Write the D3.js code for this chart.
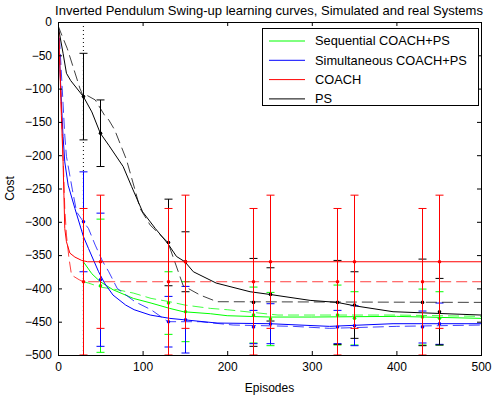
<!DOCTYPE html>
<html lang="en">
<head>
<meta charset="UTF-8">
<title>Inverted Pendulum Swing-up learning curves</title>
<style>
  html, body { margin: 0; padding: 0; background: #fff; }
  text { font-family: "Liberation Sans", Arial, sans-serif; }
</style>
</head>
<body>
<div id="chart"></div>
<script src="https://cdn.jsdelivr.net/npm/d3@7"></script>
<script>
// ---- data (episodes, cost) ----
const xTicks = [0, 100, 200, 300, 400, 500];
const yTicks = [0, -50, -100, -150, -200, -250, -300, -350, -400, -450, -500];

const seqSolid = [[30,-360],[40,-378],[50,-390],[65,-402],[89,-415],[110,-422],[132,-430],[148,-435],[180,-438],[200,-441],[250,-443],[300,-443],[400,-442],[500,-445]];
const seqDashed = [[30,-390],[36,-392],[50,-398],[70,-402],[89,-407],[110,-415],[132,-420],[150,-425],[180,-430],[200,-432],[230,-436],[260,-440],[300,-440],[400,-440],[500,-442]];

const simSolid = [[0,0],[2,-60],[4,-120],[6,-172],[8,-210],[12,-245],[20,-280],[30,-322],[36,-340],[48,-375],[55,-392],[65,-410],[80,-425],[90,-432],[109,-440],[132,-445],[148,-447],[188,-452],[250,-453],[321,-457],[396,-453],[500,-453]];
const simDashed = [[0,0],[2,-30],[5,-100],[8,-170],[10,-202],[17,-252],[22,-285],[30,-300],[36,-310],[44,-335],[53,-360],[60,-375],[70,-400],[91,-420],[110,-432],[130,-450],[168,-450],[207,-455],[278,-457],[321,-460],[400,-457],[500,-455]];

const coachSolid = [[0,0],[1,-20],[2,-60],[3,-100],[4,-140],[5,-175],[6,-210],[7,-260],[8,-310],[10,-330],[14,-347],[20,-353],[28,-358],[35,-360],[500,-360]];
const coachDashed = [[0,0],[2,-50],[4,-130],[6,-200],[8,-280],[10,-320],[13,-355],[16,-380],[25,-387],[30,-390],[500,-390]];

const psSolid = [[0,-5],[6,-47],[10,-77],[15,-88],[30,-112],[40,-135],[50,-167],[60,-185],[77,-217],[87,-247],[100,-285],[115,-310],[130,-333],[140,-352],[150,-360],[160,-375],[187,-392],[227,-405],[250,-409],[298,-418],[330,-421],[350,-426],[396,-435],[500,-440]];
const psDashed = [[0,-5],[3,-15],[11,-40],[26,-100],[30,-112],[34,-110],[44,-117],[55,-140],[60,-147],[67,-162],[81,-207],[91,-252],[97,-280],[109,-305],[130,-331],[148,-396],[168,-410],[188,-420],[500,-421]];

// error bars: [episode, mean, half-width]
const seqSolidBars = [[50,-396,100],[150,-435,45],[250,-446,40],[350,-445,40],[450,-445,40]];
const seqDashedBars = [[130,-422,47],[230,-440,42],[330,-440,45],[430,-443,42]];
const simSolidBars = [[50,-387,100],[150,-447,50],[250,-453,30],[350,-456,30],[450,-453,31]];
const simDashedBars = [[30,-300,75],[130,-450,38],[230,-458,25],[330,-458,25],[430,-458,24]];
const coachSolidBars = [[50,-360,100],[150,-360,100],[250,-360,100],[350,-360,100],[450,-360,100]];
const coachDashedBars = [[30,-390,110],[130,-390,110],[230,-390,110],[330,-390,110],[430,-390,110]];
const psSolidBars = [[50,-167,50],[150,-360,45],[250,-409,40],[350,-425,50],[450,-435,50]];
const psDashedBars = [[30,-112,65],[130,-331,65],[230,-421,66],[330,-421,63],[430,-421,65]];

const legendNames = ["Sequential COACH+PS", "Simultaneous COACH+PS", "COACH", "PS"];
const legendColors = ["#00ff00", "#0000ff", "#ff0000", "#000000"];

// ---- layout ----
const W = 492, H = 398;
const margin = { top: 22, right: 11, bottom: 43, left: 58 };
const iw = W - margin.left - margin.right;
const ih = H - margin.top - margin.bottom;

const svg = d3.select("#chart").append("svg")
  .attr("width", W).attr("height", H);

const x = d3.scaleLinear().domain([0, 500]).range([0, iw]);
const y = d3.scaleLinear().domain([-500, 0]).range([ih, 0]);

const g = svg.append("g").attr("transform", `translate(${margin.left},${margin.top})`);

svg.append("defs").append("clipPath").attr("id", "clip")
  .append("rect").attr("width", iw).attr("height", ih);

const plot = g.append("g").attr("clip-path", "url(#clip)");

// dotted vertical reference at episode 30
plot.append("line")
  .attr("x1", x(30)).attr("x2", x(30)).attr("y1", y(0)).attr("y2", y(-500))
  .attr("stroke", "#000").attr("stroke-width", 1).attr("stroke-dasharray", "1,3");

const line = d3.line().x(d => x(d[0])).y(d => y(d[1]));

const series = [
  { data: seqDashed, bars: seqDashedBars, color: "#00ff00", dash: "11,5" },
  { data: seqSolid, bars: seqSolidBars, color: "#00ff00", dash: null },
  { data: simDashed, bars: simDashedBars, color: "#0000ff", dash: "11,5" },
  { data: simSolid, bars: simSolidBars, color: "#0000ff", dash: null },
  { data: psDashed, bars: psDashedBars, color: "#000000", dash: "11,5" },
  { data: psSolid, bars: psSolidBars, color: "#000000", dash: null },
  { data: coachDashed, bars: coachDashedBars, color: "#ff0000", dash: "11,5" },
  { data: coachSolid, bars: coachSolidBars, color: "#ff0000", dash: null }
];

const cap = 4;
series.forEach(s => {
  plot.append("path")
    .datum(s.data)
    .attr("d", line)
    .attr("fill", "none")
    .attr("stroke", s.color)
    .attr("stroke-width", 1)
    .attr("stroke-dasharray", s.dash)
    .attr("stroke-opacity", s.dash ? 0.75 : 1);

  const eb = plot.append("g").attr("stroke", s.color).attr("stroke-width", 1).attr("fill", "none");
  s.bars.forEach(([bx, m, e]) => {
    const px = Math.round(x(bx)) + 0.5;
    eb.append("line").attr("x1", px).attr("x2", px).attr("y1", y(m + e)).attr("y2", y(m - e));
    eb.append("line").attr("x1", px - cap).attr("x2", px + cap).attr("y1", y(m + e)).attr("y2", y(m + e));
    eb.append("line").attr("x1", px - cap).attr("x2", px + cap).attr("y1", y(m - e)).attr("y2", y(m - e));
    plot.append("circle").attr("cx", px).attr("cy", y(m)).attr("r", 1.8).attr("fill", s.color);
  });
});

// ---- axes (MATLAB-style box with inward ticks) ----
const axFont = 12;
g.append("g")
  .attr("transform", `translate(0,${ih})`)
  .call(d3.axisBottom(x).tickValues(xTicks).tickSize(-4).tickPadding(7))
  .call(a => a.select(".domain").remove())
  .call(a => a.selectAll("text").attr("font-size", axFont).attr("fill", "#000"));

g.append("g")
  .call(d3.axisTop(x).tickValues(xTicks).tickSize(-4).tickFormat(""))
  .call(a => a.select(".domain").remove());

g.append("g")
  .call(d3.axisLeft(y).tickValues(yTicks).tickSize(-4).tickPadding(6))
  .call(a => a.select(".domain").remove())
  .call(a => a.selectAll("text").attr("font-size", axFont).attr("fill", "#000"));

g.append("g")
  .attr("transform", `translate(${iw},0)`)
  .call(d3.axisRight(y).tickValues(yTicks).tickSize(-4).tickFormat(""))
  .call(a => a.select(".domain").remove());

g.append("rect")
  .attr("x", 0.5).attr("y", 0.5).attr("width", iw).attr("height", ih)
  .attr("fill", "none").attr("stroke", "#000").attr("stroke-width", 1);

// titles
svg.append("text")
  .attr("x", 269).attr("y", 15)
  .attr("text-anchor", "middle").attr("font-size", 13)
  .text("Inverted Pendulum Swing-up learning curves, Simulated and real Systems");

svg.append("text")
  .attr("x", margin.left + iw / 2).attr("y", 392)
  .attr("text-anchor", "middle").attr("font-size", 12)
  .text("Episodes");

svg.append("text")
  .attr("transform", `translate(14,${margin.top + ih / 2}) rotate(-90)`)
  .attr("text-anchor", "middle").attr("font-size", 12)
  .text("Cost");

// ---- legend ----
const lg = svg.append("g").attr("transform", "translate(262,28)");
lg.append("rect")
  .attr("x", 0.5).attr("y", 0.5).attr("width", 216).attr("height", 77)
  .attr("fill", "#fff").attr("stroke", "#000").attr("stroke-width", 1);
legendNames.forEach((name, i) => {
  const ly = 13 + i * 19.3;
  lg.append("line")
    .attr("x1", 7).attr("x2", 43).attr("y1", ly).attr("y2", ly)
    .attr("stroke", legendColors[i]).attr("stroke-width", 1);
  lg.append("text")
    .attr("x", 53).attr("y", ly).attr("dy", "0.35em")
    .attr("font-size", 12.8)
    .text(name);
});
</script>
</body>
</html>
